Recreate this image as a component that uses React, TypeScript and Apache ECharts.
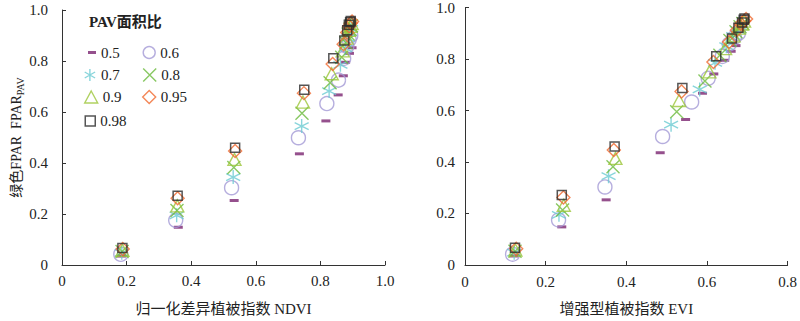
import React, { useEffect, useRef } from "react";
import * as echarts from "echarts";

// PAV area ratio categories
const pavLabels = ["0.5", "0.6", "0.7", "0.8", "0.9", "0.95", "0.98"];

// Green FPAR (shared y values)
const fpar05 = [0.035, 0.148, 0.253, 0.436, 0.565, 0.667, 0.742, 0.795, 0.830, 0.852];
const fpar06 = [0.042, 0.175, 0.303, 0.499, 0.633, 0.725, 0.810, 0.858, 0.884, 0.900];
const fpar07 = [0.048, 0.195, 0.345, 0.545, 0.682, 0.785, 0.850, 0.890, 0.912, 0.926];
const fpar08 = [0.053, 0.214, 0.382, 0.595, 0.715, 0.815, 0.872, 0.906, 0.925, 0.938];
const fpar09 = [0.058, 0.232, 0.414, 0.639, 0.750, 0.840, 0.890, 0.920, 0.936, 0.947];
const fpar095 = [0.063, 0.262, 0.447, 0.674, 0.788, 0.866, 0.912, 0.936, 0.948, 0.955];
const fpar098 = [0.067, 0.272, 0.460, 0.687, 0.811, 0.880, 0.921, 0.942, 0.952, 0.957];

// NDVI (left panel x values)
const ndvi05 = [0.184, 0.360, 0.533, 0.735, 0.817, 0.855, 0.871, 0.878, 0.890, 0.898];
const ndvi06 = [0.182, 0.352, 0.525, 0.732, 0.820, 0.856, 0.872, 0.882, 0.889, 0.894];
const ndvi07 = [0.185, 0.355, 0.530, 0.742, 0.827, 0.862, 0.877, 0.885, 0.891, 0.895];
const ndvi08 = [0.186, 0.356, 0.532, 0.743, 0.830, 0.866, 0.879, 0.886, 0.892, 0.896];
const ndvi09 = [0.187, 0.357, 0.534, 0.746, 0.835, 0.869, 0.881, 0.888, 0.893, 0.897];
const ndvi095 = [0.188, 0.358, 0.536, 0.749, 0.838, 0.872, 0.883, 0.889, 0.894, 0.898];
const ndvi098 = [0.187, 0.358, 0.536, 0.750, 0.840, 0.874, 0.883, 0.888, 0.892, 0.894];

// EVI (right panel x values)
const evi05 = [0.122, 0.240, 0.350, 0.484, 0.547, 0.589, 0.617, 0.644, 0.660, 0.672];
const evi06 = [0.118, 0.232, 0.347, 0.490, 0.562, 0.603, 0.638, 0.655, 0.668, 0.678];
const evi07 = [0.122, 0.233, 0.356, 0.511, 0.582, 0.620, 0.648, 0.665, 0.676, 0.684];
const evi08 = [0.124, 0.242, 0.367, 0.525, 0.595, 0.632, 0.657, 0.672, 0.682, 0.689];
const evi09 = [0.125, 0.245, 0.373, 0.531, 0.606, 0.645, 0.666, 0.679, 0.687, 0.692];
const evi095 = [0.127, 0.244, 0.369, 0.537, 0.616, 0.655, 0.674, 0.684, 0.692, 0.697];
const evi098 = [0.124, 0.240, 0.371, 0.539, 0.623, 0.662, 0.678, 0.687, 0.691, 0.693];

const axisTicks = [0, 0.2, 0.4, 0.6, 0.8, 1.0];

const fparAll = [fpar05, fpar06, fpar07, fpar08, fpar09, fpar095, fpar098];
const ndviAll = [ndvi05, ndvi06, ndvi07, ndvi08, ndvi09, ndvi095, ndvi098];
const eviAll = [evi05, evi06, evi07, evi08, evi09, evi095, evi098];

const SERIF = '"Liberation Serif", "Times New Roman", "Noto Sans CJK SC", serif';

const styles = [
  { color: "#7b2470", symbol: "rect", size: [9, 3], filled: true, lw: 0, iw: 8, ih: 3 },
  { color: "#a49ad6", symbol: "circle", size: 14, filled: false, lw: 1.4, iw: 12, ih: 12 },
  { color: "#6ccad2", symbol: "path://M6,0L6,12M0.8,3L11.2,9M0.8,9L11.2,3", size: 14, filled: false, lw: 1.4, iw: 12, ih: 12 },
  { color: "#6cba3c", symbol: "path://M0,0L12,12M12,0L0,12", size: 13, filled: false, lw: 1.4, iw: 13, ih: 13 },
  { color: "#9cc63a", symbol: "triangle", size: [13, 12], filled: false, lw: 1.4, iw: 13, ih: 12 },
  { color: "#f0692e", symbol: "diamond", size: 13, filled: false, lw: 1.4, iw: 13, ih: 13 },
  { color: "#2a2a2a", symbol: "rect", size: 9, filled: false, lw: 1.5, iw: 10, ih: 10 },
];

const fmt = (v: number) => (v === 0 ? "0" : v.toFixed(1));

export default function App() {
  const ref = useRef<HTMLDivElement>(null);
  useEffect(() => {
    if (!ref.current) return;
    const chart = echarts.init(ref.current, null, { renderer: "svg" });

    const axisCommon = {
      type: "value" as const,
      splitLine: { show: false },
      axisLine: { show: true, onZero: false, lineStyle: { color: "#333", width: 1 } },
      axisTick: { show: true, inside: true, length: 4, lineStyle: { color: "#333" } },
    };
    const labelStyle = { fontFamily: SERIF, fontSize: 15, color: "#222" };

    const series: any[] = [];
    [0, 1].forEach((g) => {
      pavLabels.forEach((name, i) => {
        const st = styles[i];
        const xs = g === 0 ? ndviAll[i] : eviAll[i];
        series.push({
          type: "scatter",
          name,
          xAxisIndex: g,
          yAxisIndex: g,
          symbol: st.symbol,
          symbolSize: st.size,
          data: xs.map((x, k) => [x, fparAll[i][k]]),
          itemStyle: st.filled
            ? { color: st.color, borderWidth: 0 }
            : { color: "rgba(0,0,0,0)", borderColor: st.color, borderWidth: st.lw },
          emphasis: { disabled: true },
          z: 2 + i,
        });
      });
    });

    const legendPos = [
      { cx: 92, cy: 54 },
      { cx: 148.5, cy: 54 },
      { cx: 90, cy: 76.5 },
      { cx: 149, cy: 76.5 },
      { cx: 90.5, cy: 98.5 },
      { cx: 148.5, cy: 98.5 },
      { cx: 89.5, cy: 122.5 },
    ];
    const legends = pavLabels.map((name, i) => {
      const st = styles[i];
      return {
        data: [name],
        left: legendPos[i].cx - st.iw / 2,
        top: legendPos[i].cy - 9,
        padding: 0,
        itemWidth: st.iw,
        itemHeight: st.ih,
        selectedMode: false,
        textStyle: { fontFamily: SERIF, fontSize: 15, color: "#222", padding: [0, 0, 0, 0] },
        itemStyle: st.filled
          ? { borderWidth: 0 }
          : { borderWidth: st.lw, borderColor: st.color, color: "rgba(0,0,0,0)" },
      };
    });

    chart.setOption({
      animation: false,
      backgroundColor: "#fff",
      title: {
        text: "PAV面积比",
        left: 89,
        top: 14,
        padding: 0,
        textStyle: { fontFamily: SERIF, fontSize: 15, fontWeight: "bold", color: "#222" },
      },
      legend: legends,
      grid: [
        { left: 62, right: 415, top: 10, bottom: 53.5 },
        { left: 465, right: 10, top: 4, bottom: 51 },
      ],
      xAxis: [
        {
          ...axisCommon,
          gridIndex: 0,
          min: axisTicks[0],
          max: axisTicks[5],
          interval: 0.2,
          axisLabel: { ...labelStyle, margin: 8, formatter: fmt },
          name: "归一化差异植被指数 NDVI",
          nameLocation: "middle",
          nameGap: 36,
          nameTextStyle: { fontFamily: SERIF, fontSize: 15, color: "#222" },
        },
        {
          ...axisCommon,
          gridIndex: 1,
          min: axisTicks[0],
          max: axisTicks[4],
          interval: 0.2,
          axisLabel: { ...labelStyle, margin: 9, formatter: fmt },
          name: "增强型植被指数 EVI",
          nameLocation: "middle",
          nameGap: 36,
          nameTextStyle: { fontFamily: SERIF, fontSize: 15, color: "#222" },
        },
      ],
      yAxis: [
        {
          ...axisCommon,
          gridIndex: 0,
          min: axisTicks[0],
          max: axisTicks[5],
          interval: 0.2,
          axisLabel: { ...labelStyle, margin: 14, formatter: fmt },
          name: "绿色FPAR  FPAR{s|PAV}",
          nameLocation: "middle",
          nameRotate: 90,
          nameGap: 37,
          nameTextStyle: {
            fontFamily: SERIF,
            fontSize: 14,
            color: "#222",
            rich: {
              s: { fontFamily: SERIF, fontSize: 10, color: "#222", padding: [8, 0, 0, 0] },
            },
          },
        },
        {
          ...axisCommon,
          gridIndex: 1,
          min: axisTicks[0],
          max: axisTicks[5],
          interval: 0.2,
          axisLabel: { ...labelStyle, margin: 10, formatter: fmt },
        },
      ],
      series,
    });
    return () => chart.dispose();
  }, []);
  return (
    <div
      ref={ref}
      style={{ position: "fixed", left: 0, top: 0, width: 800, height: 321, background: "#fff" }}
    />
  );
}
